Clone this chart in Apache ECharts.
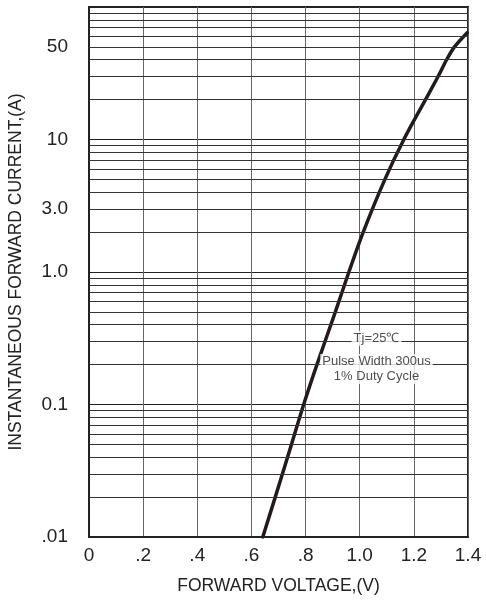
<!DOCTYPE html>
<html>
<head>
<meta charset="utf-8">
<script src="https://cdn.jsdelivr.net/npm/echarts@6/dist/echarts.min.js"></script>
<style>
html,body{margin:0;padding:0;background:#fff;}
#chart{width:486px;height:603px;}
</style>
</head>
<body>
<div id="chart"></div>
<script>
// Forward voltage (V) and instantaneous forward current (A)
const voltage = [0.642, 0.688, 0.748, 0.793, 0.842, 0.910, 0.960, 1.013, 1.093, 1.163, 1.243, 1.290, 1.321, 1.350, 1.397];
const current = [0.01, 0.02, 0.05, 0.1, 0.2, 0.5, 1, 2, 5, 10, 20, 30, 40, 50, 64];

// Axis ticks and labels
const xTickLabels = ['0', '.2', '.4', '.6', '.8', '1.0', '1.2', '1.4'];
const yLabelValues = [0.01, 0.1, 1, 3, 10, 50];
const yLabelTexts = ['.01', '0.1', '1.0', '3.0', '10', '50'];
// Horizontal grid lines of the log paper (1..9 per decade)
const yGridValues = [
  0.02, 0.03, 0.04, 0.05, 0.06, 0.07, 0.08, 0.09,
  0.2, 0.3, 0.4, 0.5, 0.6, 0.7, 0.8, 0.9,
  2, 3, 4, 5, 6, 7, 8, 9,
  20, 30, 40, 50, 60, 70, 80, 90
];

// Annotation
const noteTitle = 'Tj=25\u2103';
const noteBody = 'Pulse Width 300us\n1% Duty Cycle';
const notePos = [[1.062, 0.316], [1.062, 0.185]];

const FONT = 'Arial, "Liberation Sans", Helvetica, sans-serif';

const chart = echarts.init(document.getElementById('chart'), null, {renderer: 'canvas'});

const curveData = voltage.map((v, i) => [v, current[i]]);

chart.setOption({
  animation: false,
  backgroundColor: '#fff',
  grid: {
    left: 89, right: 18, top: 7, bottom: 66,
    outerBoundsMode: 'none',
    containLabel: false,
    show: true, borderColor: '#222', borderWidth: 2, backgroundColor: 'transparent'
  },
  xAxis: {
    type: 'value',
    min: 0, max: 1.4, interval: 0.2,
    name: 'FORWARD VOLTAGE,(V)',
    nameLocation: 'middle',
    nameGap: 40,
    nameTextStyle: {fontFamily: FONT, fontSize: 17.5, color: '#222'},
    axisLine: {show: true, onZero: false, lineStyle: {color: '#222', width: 2}},
    axisTick: {show: false},
    axisLabel: {
      fontFamily: FONT, fontSize: 19, color: '#222', margin: 9,
      formatter: function (v) {
        const idx = Math.round(v / 0.2);
        return xTickLabels[idx] !== undefined ? xTickLabels[idx] : '';
      }
    },
    splitLine: {show: true, lineStyle: {color: '#666', width: 1}}
  },
  yAxis: {
    type: 'log',
    logBase: 10,
    min: 0.01, max: 100,
    name: 'INSTANTANEOUS FORWARD CURRENT,(A)',
    nameLocation: 'middle',
    nameGap: 64,
    nameTextStyle: {fontFamily: FONT, fontSize: 17.5, color: '#222'},
    axisLine: {show: true, lineStyle: {color: '#222', width: 2}},
    axisTick: {show: false},
    axisLabel: {
      fontFamily: FONT, fontSize: 19, color: '#222', margin: 21,
      customValues: yLabelValues,
      formatter: function (v) {
        for (let i = 0; i < yLabelValues.length; i++) {
          if (Math.abs(Math.log10(v) - Math.log10(yLabelValues[i])) < 1e-6) return yLabelTexts[i];
        }
        return '';
      }
    },
    splitLine: {show: true, lineStyle: {color: '#222', width: 1}}
  },
  series: [
    {
      type: 'line',
      name: 'grid',
      data: [],
      silent: true,
      z: 1,
      markLine: {
        silent: true,
        symbol: ['none', 'none'],
        animation: false,
        label: {show: false},
        lineStyle: {color: '#333', width: 1, type: 'solid'},
        emphasis: {disabled: true},
        data: yGridValues.map(v => ({yAxis: v}))
      }
    },
    {
      type: 'line',
      name: 'IF',
      data: curveData,
      smooth: 0.3,
      showSymbol: false,
      symbol: 'none',
      z: 3,
      lineStyle: {color: '#231a1f', width: 3.5, cap: 'round'}
    },
    {
      type: 'scatter',
      name: 'note',
      silent: true,
      z: 5,
      symbolSize: 0,
      data: [
        {value: notePos[0], label: {formatter: noteTitle}},
        {value: notePos[1], label: {formatter: noteBody}}
      ],
      label: {
        show: true,
        position: 'inside',
        fontFamily: FONT,
        fontSize: 13,
        lineHeight: 15,
        color: '#222',
        align: 'center',
        backgroundColor: '#fff',
        padding: [0, 2]
      }
    }
  ]
});
</script>
</body>
</html>
